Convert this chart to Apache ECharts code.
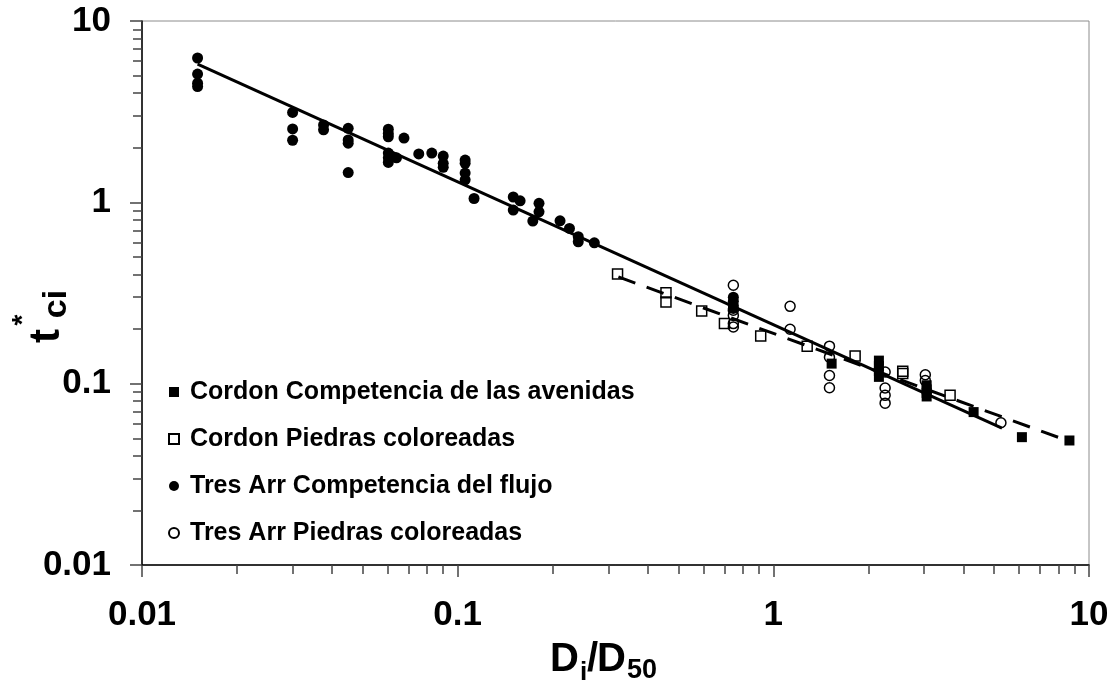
<!DOCTYPE html>
<html>
<head>
<meta charset="utf-8">
<script src="https://cdn.jsdelivr.net/npm/echarts@6/dist/echarts.min.js"></script>
<style>
html,body{margin:0;padding:0;background:#fff;}
#chart{width:1116px;height:680px;}
</style>
</head>
<body>
<div id="chart"></div>
<script>
// ---- data ----
const seriesNames = [
  'Cordon Competencia de las avenidas',
  'Cordon Piedras coloreadas',
  'Tres Arr Competencia del flujo',
  'Tres Arr Piedras coloreadas'
];

const cordonCompX = [1.53, 2.16, 2.16, 2.16, 2.16, 3.06, 3.06, 3.06, 3.06, 4.31, 6.13, 8.67];
const cordonCompY = [0.129, 0.134, 0.125, 0.117, 0.109, 0.098, 0.093, 0.089, 0.085, 0.0697, 0.0507, 0.0486];

const cordonPiedX = [0.321, 0.457, 0.457, 0.593, 0.70, 0.912, 1.28, 1.816, 2.57, 2.57, 3.63];
const cordonPiedY = [0.402, 0.317, 0.282, 0.252, 0.2145, 0.183, 0.161, 0.142, 0.117, 0.1136, 0.0862];

const tresCompX = [0.015, 0.015, 0.015, 0.015,
  0.030, 0.030, 0.030,
  0.0376, 0.0376,
  0.045, 0.045, 0.045, 0.045,
  0.0603, 0.0603, 0.0603, 0.0603, 0.0603, 0.0603,
  0.064, 0.0676, 0.0753, 0.0828,
  0.090, 0.090, 0.090,
  0.1056, 0.1056, 0.1056, 0.1056,
  0.1127, 0.150, 0.150, 0.1577, 0.173, 0.181, 0.181,
  0.211, 0.226, 0.241, 0.241, 0.271,
  0.747, 0.747, 0.747, 0.747];
const tresCompY = [6.25, 5.10, 4.54, 4.35,
  3.13, 2.54, 2.20,
  2.67, 2.51,
  2.56, 2.21, 2.12, 1.46,
  2.53, 2.40, 2.30, 1.87, 1.76, 1.66,
  1.76, 2.26, 1.85, 1.87,
  1.80, 1.64, 1.56,
  1.71, 1.64, 1.45, 1.33,
  1.05, 1.07, 0.907, 1.02, 0.788, 0.987, 0.887,
  0.791, 0.718, 0.646, 0.606, 0.598,
  0.30, 0.285, 0.27, 0.26];

const tresPiedX = [0.747, 0.747, 0.747, 0.747, 0.747,
  1.13, 1.13,
  1.506, 1.506, 1.506, 1.506,
  2.26, 2.26, 2.26, 2.26,
  3.03, 3.03,
  5.26];
const tresPiedY = [0.349, 0.254, 0.238, 0.2145, 0.2055,
  0.267, 0.1995,
  0.161, 0.140, 0.111, 0.095,
  0.116, 0.0946, 0.0862, 0.0781,
  0.112, 0.104,
  0.0609];

// trend lines (end points)
const trendSolidX = [0.015, 5.30];
const trendSolidY = [5.79, 0.0568];
const trendDashX = [0.323, 8.51];
const trendDashY = [0.388, 0.0486];

// axis ticks
const xMajorTicks = [0.01, 0.1, 1, 10];
const xTickLabels = ['0.01', '0.1', '1', '10'];
const yMajorTicks = [0.01, 0.1, 1, 10];
const yTickLabels = ['0.01', '0.1', '1', '10'];
const minorTicks = [0.02,0.03,0.04,0.05,0.06,0.07,0.08,0.09,
  0.2,0.3,0.4,0.5,0.6,0.7,0.8,0.9,
  2,3,4,5,6,7,8,9];

// ---- chart ----
const FONT = '"Liberation Sans", Arial, sans-serif';
const zip = (xs, ys) => xs.map((x, i) => [x, ys[i]]);
const labelFor = (ticks, labels) => v => {
  for (let i = 0; i < ticks.length; i++) {
    if (Math.abs(Math.log10(v) - Math.log10(ticks[i])) < 1e-6) return labels[i];
  }
  return '';
};

const chart = echarts.init(document.getElementById('chart'), null, {renderer: 'canvas'});

const openStyle = {color: 'rgba(0,0,0,0)', borderColor: '#000', borderWidth: 1.5, opacity: 1};
const fillStyle = {color: '#000', borderColor: '#000', borderWidth: 0, opacity: 1};

const option = {
  animation: false,
  backgroundColor: '#fff',
  grid: {left: 142, right: 27, top: 21, bottom: 115, show: true, borderColor: '#8c8c8c', borderWidth: 1, backgroundColor: 'transparent'},
  xAxis: [
    {
      type: 'log', logBase: 10, min: 0.01, max: 10, position: 'bottom',
      axisLine: {show: true, onZero: false, lineStyle: {color: '#000', width: 1.5}},
      axisTick: {show: true, length: 12, inside: false, lineStyle: {color: '#444', width: 1.5}},
      minorTick: {show: false},
      splitLine: {show: false},
      axisLabel: {margin: 33, color: '#000', fontSize: 35, fontWeight: 'bold', fontFamily: FONT,
        formatter: labelFor(xMajorTicks, xTickLabels)}
    },
    {
      type: 'log', logBase: 10, min: 0.01, max: 10, position: 'bottom', offset: 0,
      axisLine: {show: false},
      axisTick: {show: true, length: 9, inside: false, customValues: minorTicks, lineStyle: {color: '#444', width: 1.5}},
      axisLabel: {show: false},
      splitLine: {show: false}
    }
  ],
  yAxis: [
    {
      type: 'log', logBase: 10, min: 0.01, max: 10, position: 'left',
      axisLine: {show: true, onZero: false, lineStyle: {color: '#000', width: 1.5}},
      axisTick: {show: true, length: 12, inside: false, lineStyle: {color: '#444', width: 1.5}},
      splitLine: {show: false},
      axisLabel: {margin: 31, color: '#000', fontSize: 35, fontWeight: 'bold', fontFamily: FONT,
        formatter: labelFor(yMajorTicks, yTickLabels)}
    },
    {
      type: 'log', logBase: 10, min: 0.01, max: 10, position: 'left', offset: 0,
      axisLine: {show: false},
      axisTick: {show: true, length: 9, inside: false, customValues: minorTicks, lineStyle: {color: '#444', width: 1.5}},
      axisLabel: {show: false},
      splitLine: {show: false}
    }
  ],
  legend: {
    data: seriesNames,
    orient: 'vertical',
    left: 163, top: 373,
    itemWidth: 10, itemHeight: 10,
    itemGap: 19,
    selectedMode: false,
    textStyle: {color: '#000', fontSize: 25, fontWeight: 'bold', fontFamily: FONT, lineHeight: 28, padding: [0, 0, 0, 6]}
  },
  series: [
    {name: seriesNames[0], type: 'scatter', symbol: 'rect', symbolSize: 10, itemStyle: fillStyle,
      data: zip(cordonCompX, cordonCompY), z: 3, emphasis: {disabled: true}},
    {name: seriesNames[1], type: 'scatter', symbol: 'rect', symbolSize: 10, itemStyle: openStyle,
      data: zip(cordonPiedX, cordonPiedY), z: 3, emphasis: {disabled: true}},
    {name: seriesNames[2], type: 'scatter', symbol: 'circle', symbolSize: 11, itemStyle: fillStyle,
      data: zip(tresCompX, tresCompY), z: 3, emphasis: {disabled: true}},
    {name: seriesNames[3], type: 'scatter', symbol: 'circle', symbolSize: 10, itemStyle: openStyle,
      data: zip(tresPiedX, tresPiedY), z: 3, emphasis: {disabled: true}},
    {name: 'trend1', type: 'line', showSymbol: false, symbol: 'none', data: zip(trendSolidX, trendSolidY),
      lineStyle: {color: '#000', width: 3, type: 'solid'}, z: 4, silent: true},
    {name: 'trend2', type: 'line', showSymbol: false, symbol: 'none', data: zip(trendDashX, trendDashY),
      lineStyle: {color: '#000', width: 3, type: [18, 12]}, z: 4, silent: true}
  ],
  graphic: [
    // x axis title: D_i / D_50
    {type: 'text', x: 550, y: 660, style: {text: 'D', font: 'bold 40px ' + FONT, fill: '#000', align: 'left', verticalAlign: 'middle'}},
    {type: 'text', x: 580, y: 673, style: {text: 'i', font: 'bold 26px ' + FONT, fill: '#000', align: 'left', verticalAlign: 'middle'}},
    {type: 'text', x: 587, y: 660, style: {text: '/', font: 'bold 40px ' + FONT, fill: '#000', align: 'left', verticalAlign: 'middle'}},
    {type: 'text', x: 597, y: 660, style: {text: 'D', font: 'bold 40px ' + FONT, fill: '#000', align: 'left', verticalAlign: 'middle'}},
    {type: 'text', x: 627, y: 671, style: {text: '50', font: 'bold 27px ' + FONT, fill: '#000', align: 'left', verticalAlign: 'middle'}},
    // y axis title: t*_ci (rotated)
    {type: 'text', x: 47, y: 336, rotation: Math.PI / 2, style: {text: 't', font: 'bold 42px ' + FONT, fill: '#000', align: 'center', verticalAlign: 'middle'}},
    {type: 'text', x: 23, y: 320, rotation: Math.PI / 2, style: {text: '*', font: 'bold 28px ' + FONT, fill: '#000', align: 'center', verticalAlign: 'middle'}},
    {type: 'text', x: 57, y: 304, rotation: Math.PI / 2, style: {text: 'ci', font: 'bold 34px ' + FONT, fill: '#000', align: 'center', verticalAlign: 'middle'}}
  ]
};

chart.setOption(option);
</script>
</body>
</html>
